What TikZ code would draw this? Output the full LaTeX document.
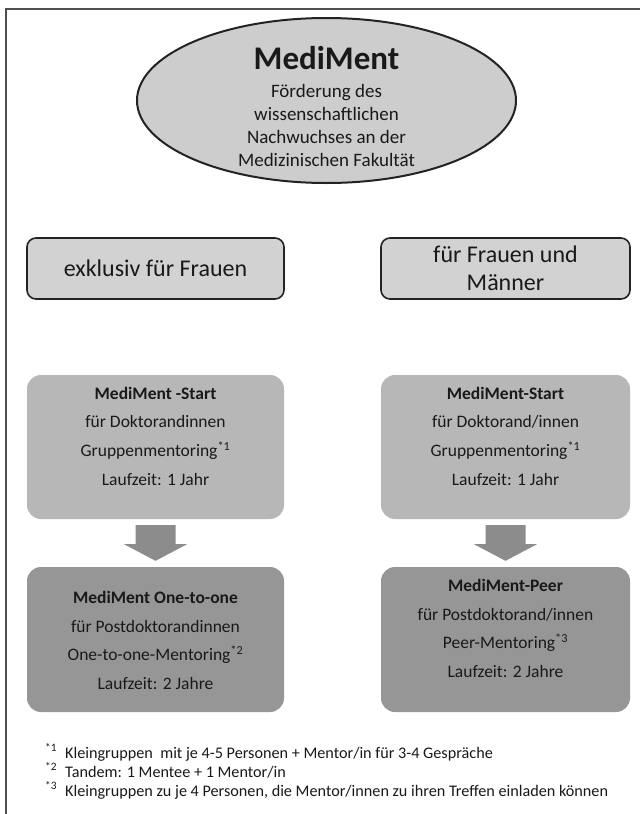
\documentclass[tikz,border=0pt]{standalone}
\usepackage{fontspec}
\setmainfont{Carlito}
\usetikzlibrary{calc,shapes.geometric}
\definecolor{ellc}{RGB}{205,205,205}
\definecolor{headc}{RGB}{210,210,210}
\definecolor{midc}{RGB}{183,183,183}
\definecolor{botc}{RGB}{150,150,150}
\definecolor{arrc}{RGB}{140,140,140}
\definecolor{linec}{RGB}{35,35,35}
\definecolor{txtc}{RGB}{25,25,25}
\tikzset{
  mainell/.style={ellipse, draw=linec, line width=2pt, fill=ellc, minimum width=379pt, minimum height=165pt, inner sep=0pt},
  headbox/.style={rectangle, rounded corners=9pt, draw=linec, line width=1.6pt, fill=headc, minimum height=61pt, inner sep=0pt},
  midbox/.style={rectangle, rounded corners=14pt, fill=midc, minimum height=144pt, inner sep=0pt},
  botbox/.style={rectangle, rounded corners=14pt, fill=botc, minimum height=145pt, inner sep=0pt},
  headtext/.style={text=txtc, align=center, inner sep=0pt, font=\fontsize{24}{28}\selectfont},
  boxtext/.style={text=txtc, align=center, inner sep=0pt, font=\fontsize{17.5}{28.7}\selectfont},
  foottext/.style={text=txtc, anchor=base west, inner sep=0pt, font=\fontsize{16.2}{19}\selectfont},
  blockarrow/.style={fill=arrc}
}
\newcommand{\sm}[1]{\textsuperscript{#1}}
\begin{document}
\begin{tikzpicture}[x=1pt,y=-1pt]
\useasboundingbox (0,0) rectangle (640,814);
\fill[white] (0,0) rectangle (640,814);
% frame
\draw[linec!80, line width=1.6pt] (6,814) -- (6,9) -- (640,9);

% ellipse
\node[mainell] (top) at (326.5,100.5) {};
\node[text=txtc, inner sep=0pt, anchor=base, font=\fontsize{33}{36}\selectfont\bfseries] (title) at (326.5,69) {MediMent};
\node[text=txtc, inner sep=0pt, align=center, font=\fontsize{19}{23}\selectfont] (sub) at (326.5,125) {Förderung des\\wissenschaftlichen\\Nachwuchses an der\\Medizinischen Fakultät};

% header boxes
\node[headbox, minimum width=257pt] (hl) at (155.5,268.5) {};
\node[headtext] (hlt) at (hl.center) {exklusiv für Frauen};
\node[headbox, minimum width=249pt] (hr) at (505.5,268.5) {};
\node[headtext] (hrt) at ($(hr.center)+(0,0)$) {für Frauen und\\Männer};

% middle boxes
\node[midbox, minimum width=257pt] (ml) at (155.5,447) {};
\node[boxtext] (mlt) at ($(ml.center)+(0,-11)$) {\textbf{MediMent -Start}\\für Doktorandinnen\\Gruppenmentoring\sm{*1}\\Laufzeit: 1 Jahr};
\node[midbox, minimum width=249pt] (mr) at (505.5,447) {};
\node[boxtext] (mrt) at ($(mr.center)+(0,-11)$) {\textbf{MediMent-Start}\\für Doktorand/innen\\Gruppenmentoring\sm{*1}\\Laufzeit: 1 Jahr};

% bottom boxes
\node[botbox, minimum width=257pt] (bl) at (155.5,639.5) {};
\node[boxtext] (blt) at ($(bl.center)+(0,1)$) {\textbf{MediMent One-to-one}\\für Postdoktorandinnen\\One-to-one-Mentoring\sm{*2}\\Laufzeit: 2 Jahre};
\node[botbox, minimum width=249pt] (br) at (505.5,639.5) {};
\node[boxtext] (brt) at ($(br.center)+(0,-11)$) {\textbf{MediMent-Peer}\\für Postdoktorand/innen\\Peer-Mentoring\sm{*3}\\Laufzeit: 2 Jahre};

% block arrows
\foreach \a/\b in {ml/bl, mr/br}{
  \fill[blockarrow] ($(\a.south)+(-20,6)$) -- ($(\a.south)+(20,6)$) -- ($(\a.south)+(20,25)$) -- ($(\a.south)+(31.5,25)$)
    -- ($(\b.north)+(0,-6)$) -- ($(\a.south)+(-31.5,25)$) -- ($(\a.south)+(-20,25)$) -- cycle;
}

% footnotes
\node[foottext] (f1) at (45,758) {\makebox[20pt][l]{\sm{*1}}Kleingruppen\ \ mit je 4-5 Personen + Mentor/in für 3-4 Gespräche};
\node[foottext] (f2) at (45,777) {\makebox[20pt][l]{\sm{*2}}Tandem: 1 Mentee + 1 Mentor/in};
\node[foottext] (f3) at (45,796) {\makebox[20pt][l]{\sm{*3}}Kleingruppen zu je 4 Personen, die Mentor/innen zu ihren Treffen einladen können};
\end{tikzpicture}
\end{document}
